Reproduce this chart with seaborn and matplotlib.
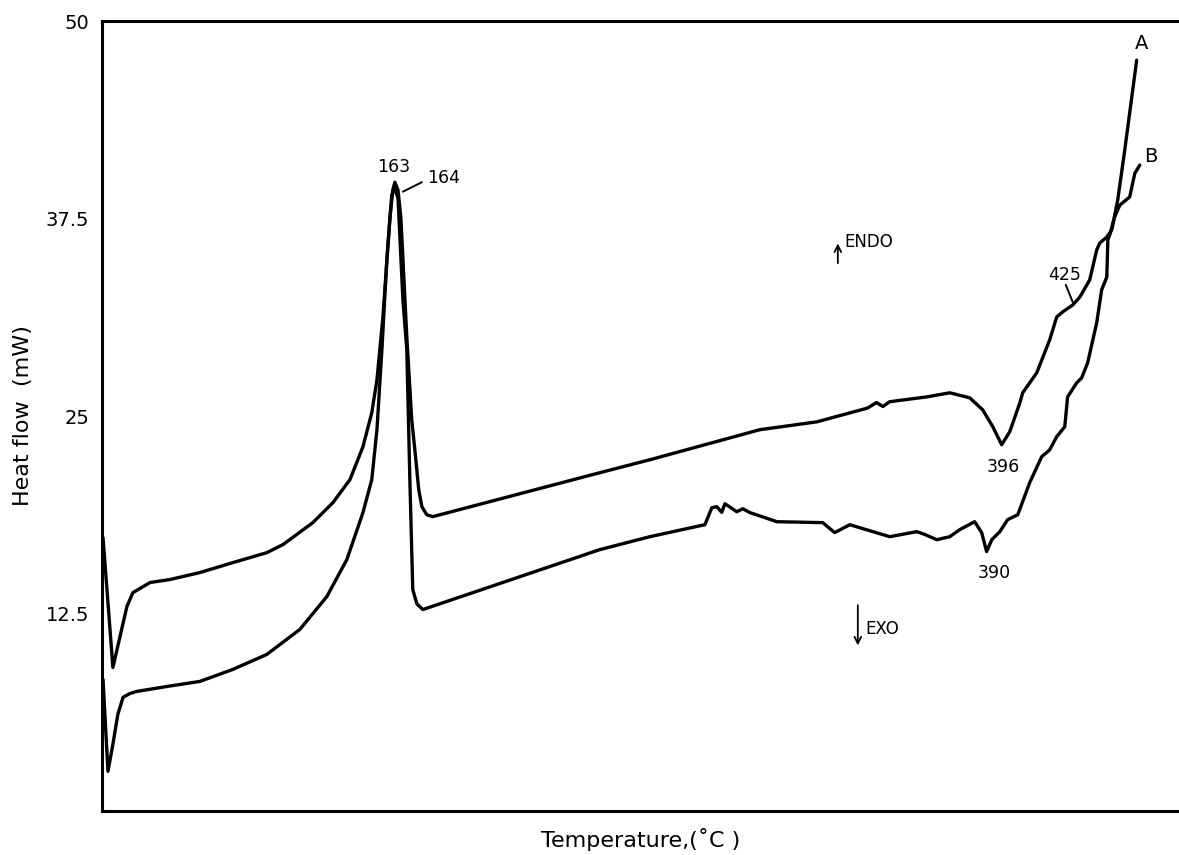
import matplotlib
matplotlib.use("Agg")
import matplotlib.pyplot as plt
import seaborn as sns
import pandas as pd

sns.set_theme(style="white")
plt.rcParams['font.family'] = ['DejaVu Sans']
plt.rcParams['text.color'] = 'black'
plt.rcParams['axes.labelcolor'] = 'black'
plt.rcParams['ytick.color'] = 'black'

# Curve A (upper)
temp_a = [50.6, 54.4, 59.8, 62.1, 68.7, 76.4, 87.9, 100.6, 113.7, 119.9, 131.4, 139.1,
          145.7, 150.7, 154.1, 156.1, 158.4, 161.1, 162.2, 163.0, 164.2, 165.3, 167.6,
          169.5, 170.7, 172.2, 173.4, 175.3, 177.6, 241.9, 261.2, 303.5, 325.5,
          345.0, 348.5, 351.0, 353.5, 358.0, 367.9, 376.7, 384.4, 389.4, 393.3, 396.7,
          399.8, 403.7, 404.8, 410.2, 415.2, 417.9, 420.2, 424.1, 426.8, 430.6, 433.3,
          434.5, 437.2, 439.1, 441.4, 444.1, 448.7]
heat_a = [17.3, 9.08, 12.94, 13.82, 14.46, 14.65, 15.09, 15.72, 16.35, 16.86, 18.25, 19.51,
          20.97, 23.05, 25.20, 27.29, 31.27, 37.59, 39.3, 39.8, 39.3, 37.59, 30.0,
          24.76, 22.86, 20.33, 19.26, 18.75, 18.63, 21.41, 22.23, 24.13, 24.63,
          25.5, 25.85, 25.6, 25.9, 26.0, 26.21, 26.47, 26.15, 25.39, 24.32, 23.18,
          24.0, 25.83, 26.47, 27.73, 29.82, 31.27, 31.59, 32.03, 32.53, 33.61, 35.51,
          35.95, 36.33, 36.77, 38.67, 41.83, 47.52]

# Curve B (lower)
temp_b = [50.6, 52.5, 54.4, 56.3, 58.3, 61.0, 63.7, 75.2, 87.9, 100.6, 113.7, 126.4,
          136.8, 144.5, 150.7, 154.1, 156.1, 158.0, 159.9, 161.8, 163.0, 164.2, 166.1,
          167.6, 168.8, 169.9, 171.5, 173.8, 241.9, 261.2, 282.4, 285.1, 287.0, 288.9,
          290.1, 294.7, 297.0, 299.7, 310.1, 327.8, 332.4, 338.2, 353.6, 364.0, 367.1,
          371.7, 376.7, 380.6, 386.3, 389.0, 390.9, 392.9, 396.0, 399.0, 402.9, 407.5,
          412.1, 415.2, 417.9, 421.0, 422.1, 425.6, 427.5, 429.8, 433.3, 435.2, 437.2,
          437.6, 438.3, 440.2, 442.2, 446.0, 448.0, 449.9]
heat_b = [8.32, 2.51, 4.22, 6.11, 7.19, 7.44, 7.57, 7.88, 8.20, 8.96, 9.91, 11.49,
          13.57, 15.91, 18.88, 20.97, 24.13, 29.18, 34.87, 38.98, 39.4, 38.8, 32.35,
          29.18, 20.78, 14.01, 13.1, 12.75, 16.54, 17.36, 18.12, 19.20, 19.26, 18.9,
          19.45, 18.94, 19.13, 18.89, 18.31, 18.25, 17.62, 18.12, 17.36, 17.68, 17.5,
          17.17, 17.36, 17.81, 18.31, 17.62, 16.42, 17.17, 17.68, 18.44, 18.75, 20.78,
          22.42, 22.86, 23.69, 24.32, 26.21, 27.10, 27.41, 28.36, 30.89, 32.98, 33.80,
          36.14, 36.45, 37.59, 38.35, 38.86, 40.37, 40.88]

ytick_vals = [6.25, 12.5, 18.75, 25, 31.25, 37.5, 43.75, 50]
ytick_labels = ["", "12.5", "", "25", "", "37.5", "", "50"]

df = pd.concat([
    pd.DataFrame({"T": temp_a, "H": heat_a, "curve": "A"}),
    pd.DataFrame({"T": temp_b, "H": heat_b, "curve": "B"}),
])

fig = plt.figure(figsize=(11.79, 8.55), dpi=100)
ax = fig.add_axes([0.0865, 0.0515, 0.9135, 0.9239])
sns.lineplot(data=df, x="T", y="H", units="curve", estimator=None, sort=False,
             color="black", linewidth=2.4, ax=ax, legend=False)

ax.set_xlim(50.2, 465)
ax.set_ylim(0, 50)
ax.set_xticks([])
ax.set_yticks(ytick_vals)
ax.set_yticklabels(ytick_labels, fontsize=14)
ax.tick_params(axis="y", direction="in", length=9, width=1.5, color="black", pad=9)
for s in ["left", "top", "bottom"]:
    ax.spines[s].set_color("black")
    ax.spines[s].set_linewidth(2.2)
ax.spines["right"].set_visible(False)

ax.set_xlabel("Temperature,(˚C )", fontsize=16, labelpad=12)
ax.set_ylabel("Heat flow  (mW)", fontsize=16, labelpad=9)

kw = dict(fontsize=12.5, color="black", va="baseline")
ax.text(162.4, 40.45, "163", ha="center", **kw)
ax.text(175.3, 39.75, "164", ha="left", **kw)
ax.plot([166.1, 173.4], [39.2, 39.8], color="black", lw=1.4)
ax.text(397.5, 21.45, "396", ha="center", **kw)
ax.text(393.7, 14.75, "390", ha="center", **kw)
ax.text(421.0, 33.6, "425", ha="center", **kw)
ax.plot([421.4, 424.1], [33.3, 32.2], color="black", lw=1.4)
ax.text(450.6, 48.25, "A", ha="center", va="baseline", fontsize=14, color="black")
ax.text(454.1, 41.05, "B", ha="center", va="baseline", fontsize=14, color="black")

ax.annotate("", xy=(333.6, 36.1), xytext=(333.6, 34.5),
            arrowprops=dict(arrowstyle="->", color="black", lw=1.3))
ax.text(336.3, 35.7, "ENDO", ha="left", va="baseline", fontsize=12)
ax.annotate("", xy=(341.3, 10.3), xytext=(341.3, 13.2),
            arrowprops=dict(arrowstyle="->", color="black", lw=1.3))
ax.text(344.4, 11.2, "EXO", ha="left", va="baseline", fontsize=12)

fig.savefig("out.png", dpi=100)
